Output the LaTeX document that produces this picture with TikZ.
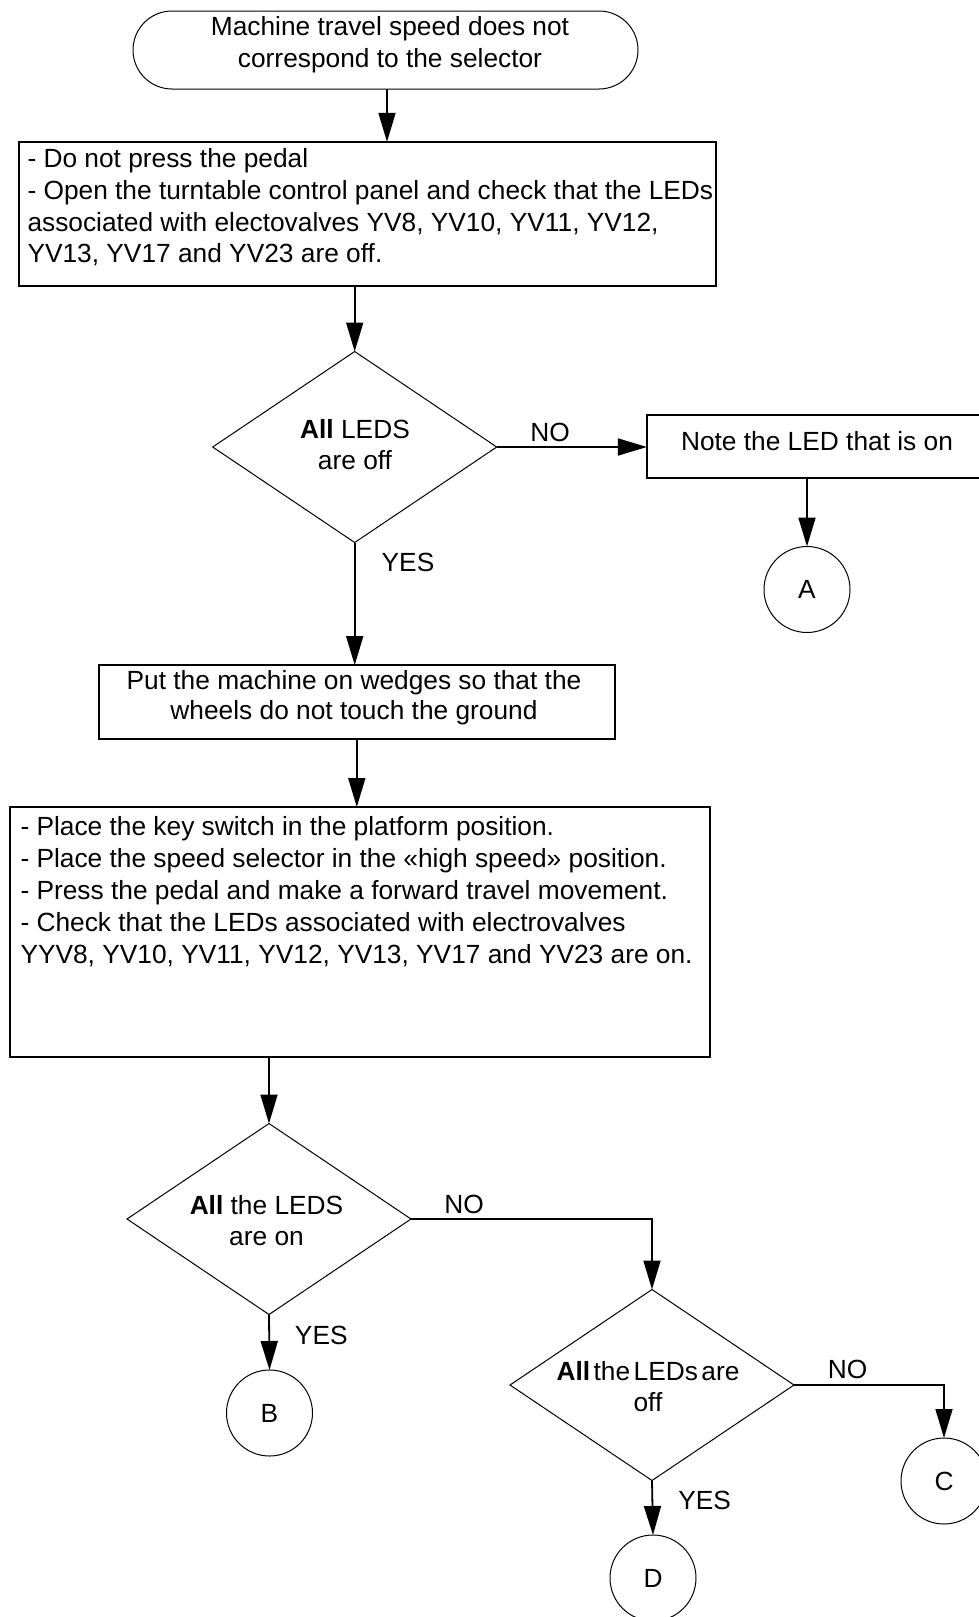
\documentclass[tikz,border=0pt]{standalone}
\usepackage{fontspec}
\setmainfont{Liberation Sans}
\usetikzlibrary{arrows.meta,shapes.geometric}
\begin{document}
\begin{tikzpicture}[x=1pt,y=-1pt,
  every node/.style={inner sep=0pt, outer sep=0pt},
  txt/.style={font=\fontsize{26.3}{#1}\selectfont},
  txt/.default=32,
  boxshape/.style={draw, line width=2pt, rectangle},
  termshape/.style={draw, line width=1pt, rectangle, rounded corners=39pt},
  decshape/.style={draw, line width=1pt, diamond, minimum width=284pt, minimum height=191pt},
  conshape/.style={draw, line width=1pt, circle, minimum size=86pt},
  arr/.style={line width=1.8pt, -{Triangle[length=29pt,width=17pt]}},
]
\useasboundingbox (0,0) rectangle (979,1617);
\clip (0,0) rectangle (979,1617);

% shapes
\node[termshape, minimum width=505pt, minimum height=78pt] (term) at (385.5,50) {};
\node[boxshape, minimum width=697pt, minimum height=144pt] (box1) at (367.5,213.8) {};
\node[decshape] (dia1) at (354.7,447) {};
\node[boxshape, minimum width=343pt, minimum height=63pt] (note) at (818.4,446.7) {};
\node[conshape] (A) at (807,589.5) {};
\node[boxshape, minimum width=515.6pt, minimum height=73.5pt] (wedge) at (356.8,701.8) {};
\node[boxshape, minimum width=700pt, minimum height=250pt] (box2) at (360,932) {};
\node[decshape] (dia2) at (269,1219) {};
\node[conshape] (B) at (269.5,1413) {};
\node[decshape] (dia3) at (652,1385) {};
\node[conshape] (C) at (944,1481) {};
\node[conshape] (D) at (653,1578) {};

% texts
\node[txt=31.6, anchor=north, align=center] (termtxt) at (390,13.6)
  {\strut Machine travel speed does not\\correspond to the selector};
\node[txt=31.8, anchor=north west, align=left] (box1txt) at (27.5,145.2)
  {\strut - Do not press the pedal\\
   - Open the turntable control panel and check that the LEDs\\
   associated with electovalves YV8, YV10, YV11, YV12,\\
   YV13, YV17 and YV23 are off.};
\node[txt=31, anchor=north, align=center] (dia1txt) at (355,416.6)
  {\strut\textbf{All} LEDS\\are off};
\node[txt, anchor=base] (notetxt) at (817,450) {Note the LED that is on};
\node[txt, anchor=base] (Atxt) at (A.center) [yshift=-9.4pt] {A};
\node[txt=30, anchor=north, align=center] (wedgetxt) at (354,668.3)
  {\strut Put the machine on wedges so that the\\wheels do not touch the ground};
\node[txt, anchor=north west, align=left] (box2txt) at (20.5,812.6)
  {\strut - Place the key switch in the platform position.\\
   - Place the speed selector in the «high speed» position.\\
   - Press the pedal and make a forward travel movement.\\
   - Check that the LEDs associated with electrovalves\\
   YYV8, YV10, YV11, YV12, YV13, YV17 and YV23 are on.};
\node[txt=31.7, anchor=north, align=center] (dia2txt) at (266.5,1191.8)
  {\strut\textbf{All} the LEDS\\are on};
\node[txt=31.7, anchor=north, align=center] (dia3txt) at (648,1357.8)
  {\strut\spaceskip=3.5pt\textbf{All} the LEDs are\\off};
\node[txt, anchor=base] (Btxt) at (B.center) [yshift=-9.4pt] {B};
\node[txt, anchor=base] (Ctxt) at (C.center) [yshift=-9.4pt] {C};
\node[txt, anchor=base] (Dtxt) at (D.center) [yshift=-9.4pt] {D};

% labels
\node[txt, anchor=base] (no1) at (550,441.7) {NO};
\node[txt, anchor=base] (yes1) at (408,571.7) {YES};
\node[txt, anchor=base] (no2) at (464,1213.3) {NO};
\node[txt, anchor=base] (yes2) at (321.3,1344) {YES};
\node[txt, anchor=base] (no3) at (847.5,1378.3) {NO};
\node[txt, anchor=base] (yes3) at (704.7,1509.3) {YES};

% connectors
\draw[arr] (term.south -| 387,0) -- (box1.north -| 387,0);
\draw[arr] (box1.south -| dia1.north) -- (dia1.north);
\draw[arr] (dia1.east) -- (dia1.east -| note.west);
\draw[arr] (note.south -| A.north) -- (A.north);
\draw[arr] (dia1.south) -- (dia1.south |- wedge.north);
\draw[arr] (wedge.south) -- (wedge.south |- box2.north);
\draw[arr] (box2.south -| dia2.north) -- (dia2.north);
\draw[arr] (dia2.south) -- (B.north);
\draw[arr] (dia2.east) -| (dia3.north);
\draw[arr] (dia3.south) -- (D.north);
\draw[arr] (dia3.east) -| (C.north);
\end{tikzpicture}
\end{document}
